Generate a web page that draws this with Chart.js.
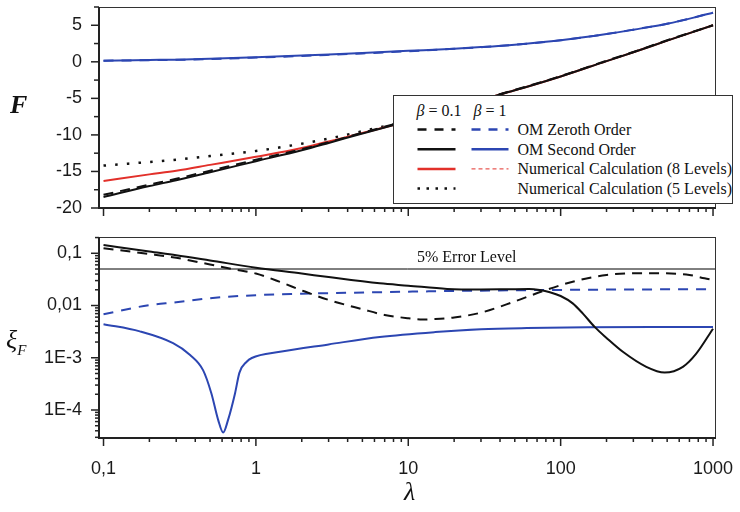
<!DOCTYPE html>
<html>
<head>
<meta charset="utf-8">
<script src="https://cdn.jsdelivr.net/npm/chart.js@4.4.1/dist/chart.umd.min.js"></script>
<style>
  html, body { margin: 0; padding: 0; background: #fff; }
  #wrap { position: relative; width: 740px; height: 512px; overflow: hidden; }
  canvas { position: absolute; left: 0; }
  #topChart { top: 0; }
  #bottomChart { top: 222px; }
  #overlay { position: absolute; left: 0; top: 0; pointer-events: none; }
</style>
</head>
<body>
<div id="wrap">
  <canvas id="topChart" width="740" height="222"></canvas>
  <canvas id="bottomChart" width="740" height="290"></canvas>
  <svg id="overlay" width="740" height="512" font-family="Liberation Serif, DejaVu Serif, serif" fill="#111">
    <text x="10" y="113" font-size="26" font-weight="bold" font-style="italic">F</text>
    <text x="6" y="348" font-size="26" font-style="italic">ξ<tspan font-size="15" dy="7">F</tspan></text>
    <text x="404" y="500" font-size="26" font-style="italic">λ</text>
    <text x="417" y="261.5" font-size="16">5% Error Level</text>
    <g id="legend" transform="translate(393.5,95.5)"></g>
  </svg>
</div>
<script>
// eixo x comum (lambda)
const xTicks = [0.1, 1, 10, 100, 1000];
const xTickLabels = ['0,1', '1', '10', '100', '1000'];
const X_MIN = 0.0934;
const X_MAX = 1046;

// painel de cima: F
const fTicks = [-20, -15, -10, -5, 0, 5];
const lambdaF = [0.1, 0.2, 0.3, 0.5, 1, 2, 3, 5, 10, 20, 30, 50, 100, 200, 300, 500, 1000];
const fZeroth01 = [-18.2, -16.8, -16.0, -14.9, -13.4, -11.95, -11.0, -9.7, -8.0, -6.2, -5.15, -3.85, -1.95, 0.15, 1.35, 2.95, 5.0];
const fSecond01 = [-18.5, -17.0, -16.2, -15.1, -13.6, -12.1, -11.1, -9.8, -8.1, -6.3, -5.2, -3.9, -2.0, 0.1, 1.3, 2.9, 5.0];
const fNum8_01 = [-16.3, -15.4, -14.9, -14.1, -13.0, -11.8, -10.9, -9.75, -8.1, -6.3, -5.2, -3.9, -2.0, 0.1, 1.3, 2.9, 5.0];
const lambdaF5 = [0.1, 0.2, 0.3, 0.5, 1, 2, 3, 5, 10];
const fNum5_01 = [-14.2, -13.7, -13.4, -12.9, -12.2, -11.2, -10.5, -9.5, -8.05];
const fZeroth1 = [0.15, 0.22, 0.27, 0.38, 0.58, 0.8, 0.95, 1.15, 1.45, 1.78, 2.0, 2.33, 2.95, 3.8, 4.4, 5.2, 6.72];
const fSecond1 = [0.15, 0.25, 0.3, 0.42, 0.62, 0.85, 1.0, 1.2, 1.5, 1.8, 2.02, 2.35, 2.95, 3.8, 4.4, 5.2, 6.7];

// painel de baixo: erro relativo xi_F
const xiTicks = [1e-4, 1e-3, 0.01, 0.1];
const xiTickLabels = ['1E-4', '1E-3', '0,01', '0,1'];
const errorLevel = 0.05;
const lambdaXiZ01 = [0.1, 0.2, 0.3, 0.5, 0.7, 1, 1.5, 2, 3, 5, 7, 10, 12.4, 15, 20, 30, 50, 80, 120, 200, 330, 470, 700, 880, 1000];
const xiZeroth01 = [0.125, 0.097, 0.082, 0.061, 0.050, 0.041, 0.027, 0.0195, 0.0128, 0.0085, 0.0066, 0.0057, 0.0054, 0.0055, 0.0059, 0.0073, 0.012, 0.0198, 0.0286, 0.0385, 0.0414, 0.0414, 0.0385, 0.0332, 0.031];
const lambdaXiS01 = [0.1, 0.2, 0.3, 0.5, 1, 2, 3, 6.5, 10, 18, 30, 45, 62, 73, 85, 100, 120, 140, 167, 200, 256, 365, 481, 634, 776, 1000];
const xiSecond01 = [0.144, 0.108, 0.092, 0.073, 0.053, 0.041, 0.035, 0.0266, 0.024, 0.0208, 0.0203, 0.0205, 0.0207, 0.0198, 0.018, 0.0152, 0.011, 0.007, 0.0039, 0.0024, 0.0013, 6.7e-4, 5.2e-4, 6.7e-4, 1.2e-3, 3.6e-3];
const lambdaXiZ1 = [0.1, 0.2, 0.3, 0.5, 1, 2, 6.5, 20, 80, 300, 1000];
const xiZeroth1 = [0.0068, 0.0102, 0.0115, 0.0138, 0.0158, 0.0168, 0.018, 0.019, 0.0198, 0.0203, 0.0205];
const lambdaXiS1 = [0.1, 0.173, 0.286, 0.37, 0.45, 0.51, 0.566, 0.61, 0.656, 0.73, 0.78, 0.87, 0.94, 1.44, 3, 6.5, 15, 30, 60, 150, 400, 1000];
const xiSecond1 = [0.0044, 0.0032, 0.0019, 0.00113, 5.8e-4, 2.1e-4, 6.4e-5, 3.7e-5, 6.4e-5, 2.1e-4, 5.2e-4, 8.4e-4, 9.9e-4, 1.3e-3, 1.8e-3, 2.5e-3, 3.1e-3, 3.5e-3, 3.7e-3, 3.85e-3, 3.9e-3, 3.9e-3];

const BLUE = '#2c46b2';
const RED = '#e2302a';
const BLACK = '#111111';
const TICK_FONT = { family: 'Liberation Sans, Arial, sans-serif', size: 18 };

function pts(xs, ys) {
  return ys.map((y, i) => ({ x: xs[i], y: y }));
}

function linha(data, color, dash, width) {
  return {
    data: data,
    borderColor: color,
    borderWidth: width || 2,
    borderDash: dash || [],
    pointRadius: 0,
    fill: false,
    cubicInterpolationMode: 'monotone'
  };
}

// marcas dos ticks e moldura da area do grafico
const molduraPlugin = {
  id: 'moldura',
  afterDraw(chart) {
    const { ctx, chartArea: a, scales } = chart;
    ctx.save();
    ctx.strokeStyle = '#222';
    ctx.lineWidth = 1.5;
    const xs = scales.x;
    for (let e = -2; e <= 3; e++) {
      for (let k = 1; k <= 9; k++) {
        const v = k * Math.pow(10, e);
        if (v < xs.min || v > xs.max) continue;
        const px = xs.getPixelForValue(v);
        ctx.beginPath();
        ctx.moveTo(px, a.bottom);
        ctx.lineTo(px, a.bottom + (k === 1 ? 8 : 4));
        ctx.stroke();
      }
    }
    const ys = scales.y;
    if (ys.type === 'logarithmic') {
      for (let e = -6; e <= 0; e++) {
        for (let k = 1; k <= 9; k++) {
          const v = k * Math.pow(10, e);
          if (v < ys.min || v > ys.max) continue;
          const py = ys.getPixelForValue(v);
          ctx.beginPath();
          ctx.moveTo(a.left, py);
          ctx.lineTo(a.left - (k === 1 ? 8 : 4), py);
          ctx.stroke();
        }
      }
    } else {
      for (let v = -20; v <= 7.5; v += 2.5) {
        const py = ys.getPixelForValue(v);
        ctx.beginPath();
        ctx.moveTo(a.left, py);
        ctx.lineTo(a.left - (v % 5 === 0 ? 8 : 5), py);
        ctx.stroke();
      }
    }
    ctx.lineWidth = 1;
    ctx.strokeStyle = '#333';
    ctx.strokeRect(a.left + 0.5, a.top + 0.5, a.width - 1, a.height - 1);
    ctx.lineWidth = 2;
    ctx.strokeStyle = '#222';
    ctx.beginPath();
    ctx.moveTo(a.left, a.top);
    ctx.lineTo(a.left, a.bottom);
    ctx.lineTo(a.right, a.bottom);
    ctx.stroke();
    ctx.restore();
  }
};

function eixoX(altura, comRotulos) {
  return {
    type: 'logarithmic',
    min: X_MIN,
    max: X_MAX,
    grid: { display: false, drawTicks: false },
    border: { display: false },
    afterBuildTicks: (s) => { s.ticks = xTicks.map(v => ({ value: v })); },
    ticks: {
      display: comRotulos,
      autoSkip: false,
      maxRotation: 0,
      padding: 20,
      color: '#1a1a1a',
      font: TICK_FONT,
      callback: (v, i) => xTickLabels[i]
    },
    afterFit: (s) => { s.height = altura; s.paddingLeft = 0; s.paddingRight = 0; }
  };
}

function eixoY(base) {
  return Object.assign({
    grid: { display: false, drawTicks: false },
    border: { display: false },
    afterFit: (s) => { s.width = 99; s.paddingTop = 0; s.paddingBottom = 0; }
  }, base);
}

new Chart(document.getElementById('topChart'), {
  type: 'line',
  data: {
    datasets: [
      linha(pts(lambdaF, fSecond1), BLUE),
      linha(pts(lambdaF, fZeroth1), BLUE, [10, 8]),
      linha(pts(lambdaF, fSecond01), BLACK),
      linha(pts(lambdaF, fZeroth01), BLACK, [10, 7]),
      linha(pts(lambdaF, fNum8_01), RED),
      linha(pts(lambdaF5, fNum5_01), BLACK, [2.5, 9.2], 2.5)
    ]
  },
  options: {
    responsive: false,
    animation: false,
    layout: { padding: { top: 7, right: 24, left: 0, bottom: 0 } },
    plugins: { legend: { display: false }, tooltip: { enabled: false } },
    scales: {
      x: eixoX(14, false),
      y: eixoY({
        type: 'linear',
        min: -20,
        max: 7.5,
        afterBuildTicks: (s) => { s.ticks = fTicks.map(v => ({ value: v })); },
        ticks: { padding: 17, color: '#1a1a1a', font: TICK_FONT, autoSkip: false, callback: (v) => String(v) }
      })
    }
  },
  plugins: [molduraPlugin]
});

new Chart(document.getElementById('bottomChart'), {
  type: 'line',
  data: {
    datasets: [
      linha(pts(lambdaXiS01, xiSecond01), BLACK),
      linha(pts(lambdaXiZ01, xiZeroth01), BLACK, [10, 7]),
      linha(pts(lambdaXiS1, xiSecond1), BLUE),
      linha(pts(lambdaXiZ1, xiZeroth1), BLUE, [10, 8]),
      linha([{ x: X_MIN, y: errorLevel }, { x: X_MAX, y: errorLevel }], '#000', [], 1)
    ]
  },
  options: {
    responsive: false,
    animation: false,
    layout: { padding: { top: 15, right: 24, left: 0, bottom: 0 } },
    plugins: { legend: { display: false }, tooltip: { enabled: false } },
    scales: {
      x: eixoX(74, true),
      y: eixoY({
        type: 'logarithmic',
        min: 2.91e-5,
        max: 0.205,
        afterBuildTicks: (s) => { s.ticks = xiTicks.map(v => ({ value: v })); },
        ticks: { padding: 17, color: '#1a1a1a', font: TICK_FONT, autoSkip: false, callback: (v, i) => xiTickLabels[i] }
      })
    }
  },
  plugins: [molduraPlugin]
});

// legenda desenhada a parte (duas colunas: beta = 0.1 e beta = 1)
const legendRows = [
  { texto: 'OM Zeroth Order', a: { c: BLACK, d: '9 8', w: 2.5 }, b: { c: BLUE, d: '9 8', w: 2.5 } },
  { texto: 'OM Second Order', a: { c: BLACK, d: '', w: 2.5 }, b: { c: BLUE, d: '', w: 2.5 } },
  { texto: 'Numerical Calculation (8 Levels)', a: { c: RED, d: '', w: 2.5 }, b: { c: RED, d: '4 3', w: 1 } },
  { texto: 'Numerical Calculation (5 Levels)', a: { c: BLACK, d: '2.5 6.5', w: 2.5 }, b: null }
];
const NS = 'http://www.w3.org/2000/svg';
const g = document.getElementById('legend');
function el(tag, attrs, txt) {
  const e = document.createElementNS(NS, tag);
  for (const k in attrs) e.setAttribute(k, attrs[k]);
  if (txt) e.textContent = txt;
  g.appendChild(e);
  return e;
}
el('rect', { x: 0, y: 0, width: 339, height: 108, fill: '#fff', stroke: '#333', 'stroke-width': 1 });
el('text', { x: 23, y: 20, 'font-size': 16 }).innerHTML = '<tspan font-style="italic">β</tspan> = 0.1';
el('text', { x: 80, y: 20, 'font-size': 16 }).innerHTML = '<tspan font-style="italic">β</tspan> = 1';
legendRows.forEach((r, i) => {
  const cy = 34 + i * 19.7;
  [[r.a, 24, 62], [r.b, 78, 115]].forEach(([s, x1, x2]) => {
    if (!s) return;
    el('line', { x1: x1, x2: x2, y1: cy, y2: cy, stroke: s.c, 'stroke-width': s.w, 'stroke-dasharray': s.d });
  });
  el('text', { x: 124, y: cy + 5.5, 'font-size': 16 }, r.texto);
});
</script>
</body>
</html>
